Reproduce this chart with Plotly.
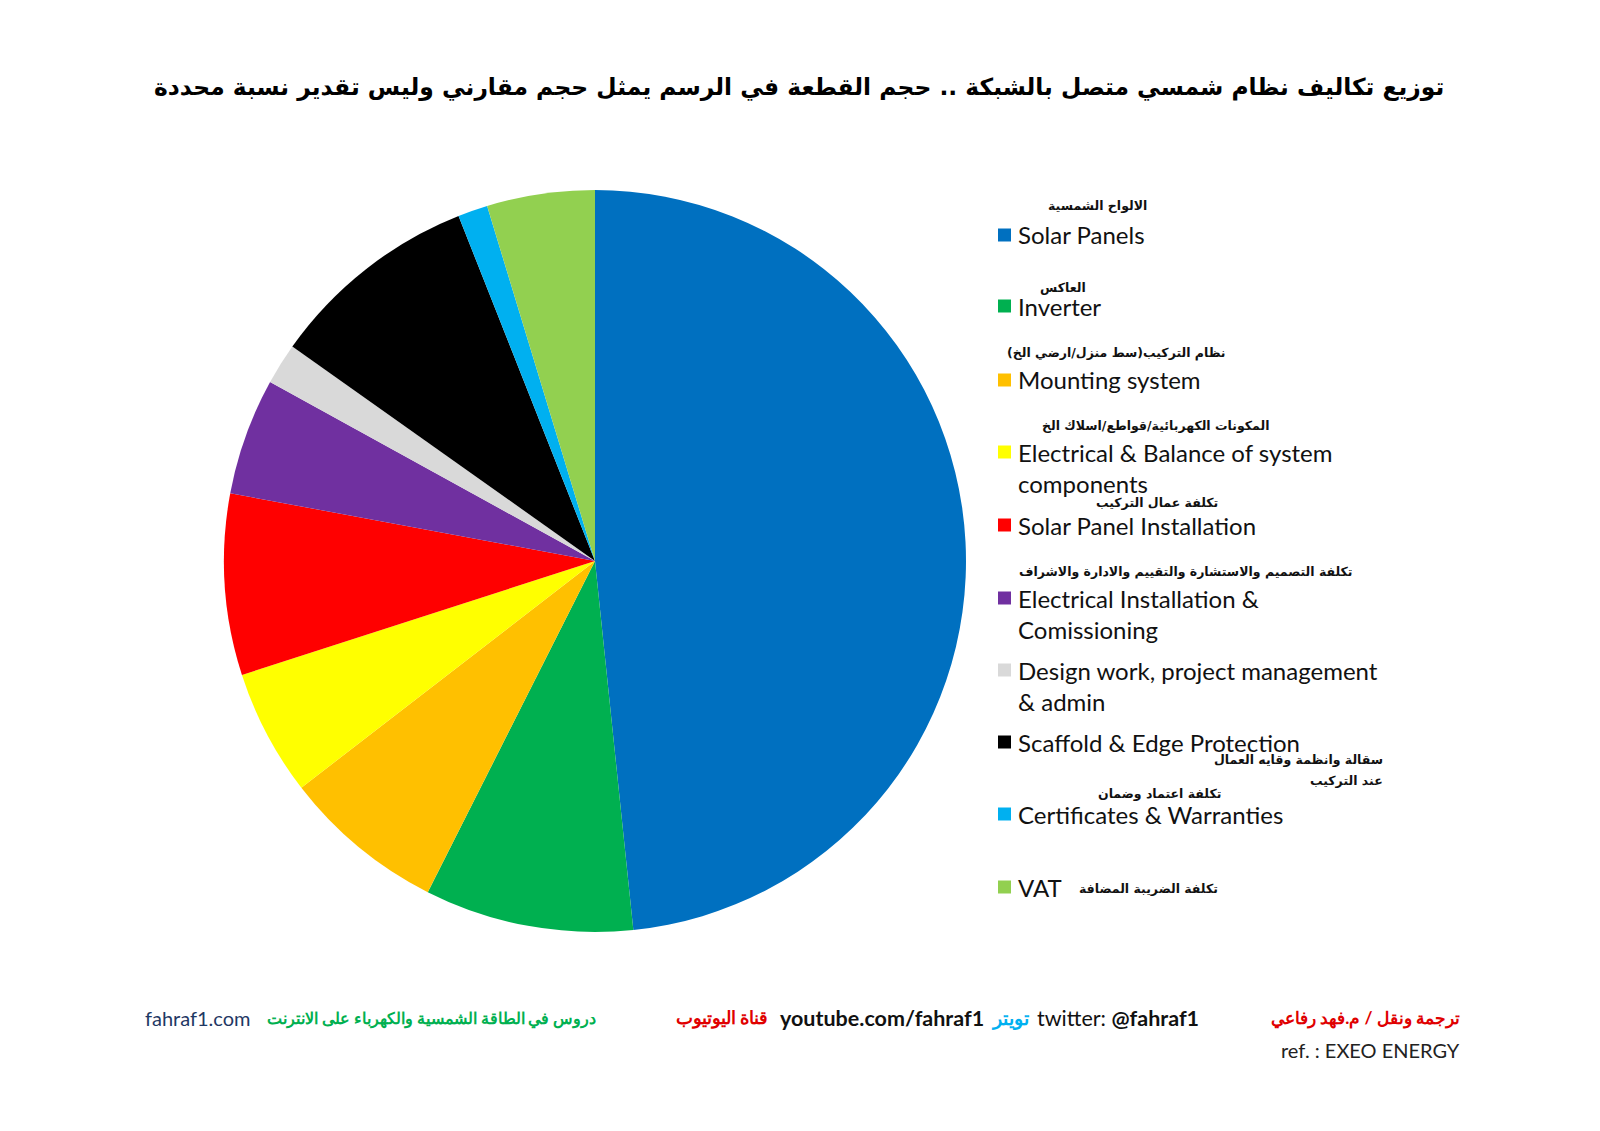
import plotly.graph_objects as go

# ---- data ----
categories = ["Solar Panels", "Inverter", "Mounting system",
              "Electrical & Balance of system components", "Solar Panel Installation",
              "Electrical Installation & Comissioning", "Design work, project management & admin",
              "Scaffold & Edge Protection", "Certificates & Warranties", "VAT"]
values = [48.4, 9.1, 7.1, 5.5, 7.9, 5.1, 1.8, 9.2, 1.3, 4.7]
colors = ["#0070C0", "#00B050", "#FFC000", "#FFFF00", "#FF0000",
          "#7030A0", "#D9D9D9", "#000000", "#00B0F0", "#92D050"]
legend_lines = [["Solar Panels"], ["Inverter"], ["Mounting system"],
                ["Electrical & Balance of system", "components"], ["Solar Panel Installation"],
                ["Electrical Installation &", "Comissioning"], ["Design work, project management", "& admin"],
                ["Scaffold & Edge Protection"], ["Certificates & Warranties"], ["VAT"]]
arabic_labels = [["الالواح الشمسية"], ["العاكس"], ["نظام التركيب(سط منزل/ارضي الخ)"],
                 ["المكونات الكهربائية/قواطع/اسلاك الخ"], ["تكلفة عمال التركيب"],
                 ["تكلفة التصميم والاستشارة والتقييم والادارة والاشراف"], [],
                 ["سقالة وانظمة وقايه العمال", "عند التركيب"], ["تكلفة اعتماد وضمان"],
                 ["تكلفة الضريبة المضافة"]]
title_text = "توزيع تكاليف نظام شمسي متصل بالشبكة .. حجم القطعة في الرسم يمثل حجم مقارني وليس تقدير نسبة محددة"

W, H = 1600, 1131
def px(x): return x / W
def py(y): return 1 - y / H

fig = go.Figure()
fig.add_trace(go.Pie(
    labels=categories, values=values, sort=False, direction="clockwise", rotation=0,
    marker=dict(colors=colors, line=dict(width=0)), textinfo="none", hoverinfo="label+percent",
    showlegend=False,
    domain=dict(x=[px(595 - 371), px(595 + 371)], y=[py(561 + 371), py(561 - 371)]),
))

annotations = []
shapes = []

# legend layout (pixel positions)
line_y = [[235], [306], [380], [452, 483], [525], [598, 629], [670, 701], [742], [814], [887]]
ar_pos = [(1097, [205], "center"), (1063, [287], "center"), (1116, [353], "center"),
          (1155, [425], "center"), (1157, [503], "center"), (1186, [571], "center"), None,
          (1385, [759, 780], "right"), (1159, [793], "center"), (1077, [888], "left")]
sq = 13
for i, (lines, ys) in enumerate(zip(legend_lines, line_y)):
    y0 = ys[0]
    shapes.append(dict(type="rect", xref="paper", yref="paper",
                       x0=px(998), x1=px(998 + sq), y0=py(y0 + sq / 2), y1=py(y0 - sq / 2),
                       fillcolor=colors[i], line=dict(width=0)))
    for t, yy in zip(lines, ys):
        annotations.append(dict(text=t, x=px(1016), y=py(yy), xref="paper", yref="paper",
                                xanchor="left", yanchor="middle", showarrow=False,
                                font=dict(family="Lato", size=24, color="#111111")))
    if arabic_labels[i]:
        ax, ays, anc = ar_pos[i]
        for t, ay in zip(arabic_labels[i], ays):
            annotations.append(dict(text="<b>" + t + "</b>", x=px(ax), y=py(ay),
                                    xref="paper", yref="paper", xanchor=anc, yanchor="middle",
                                    showarrow=False,
                                    font=dict(family="DejaVu Sans", size=12.5, color="#111111")))

# title
annotations.append(dict(text="<b>" + title_text + "</b>", x=px(799), y=py(87), xref="paper", yref="paper",
                        xanchor="center", yanchor="middle", showarrow=False,
                        font=dict(family="DejaVu Sans", size=23.4, color="#000000")))

# footer
fy = 1018
footer = [
    ("fahraf1.com", 143, "left", "#1F3864", False, 20),
    ("دروس في الطاقة الشمسية والكهرباء على الانترنت", 598, "right", "#00B050", True, 16),
    ("قناة اليوتيوب", 770, "right", "#E00000", True, 17.5),
    ("youtube.com/fahraf1", 778, "left", "#111111", True, 21.5),
    ("تويتر", 1031, "right", "#00B0F0", True, 18.5),
    ("twitter: <b>@fahraf1</b>", 1035, "left", "#111111", False, 21.5),
    ("ترجمة ونقل / م.فهد رفاعي", 1462, "right", "#E00000", True, 17.2),
]
for t, x, anc, col, bold, sz in footer:
    annotations.append(dict(text=("<b>" + t + "</b>") if bold else t, x=px(x), y=py(fy),
                            xref="paper", yref="paper", xanchor=anc, yanchor="middle", showarrow=False,
                            font=dict(family="Lato", size=sz, color=col)))
annotations.append(dict(text="ref. : EXEO ENERGY", x=px(1462), y=py(1050), xref="paper", yref="paper",
                        xanchor="right", yanchor="middle", showarrow=False,
                        font=dict(family="Lato", size=20, color="#222222")))

fig.update_layout(width=W, height=H, margin=dict(l=0, r=0, t=0, b=0),
                  paper_bgcolor="white", plot_bgcolor="white",
                  annotations=annotations, shapes=shapes)
fig.write_html("out.html")
